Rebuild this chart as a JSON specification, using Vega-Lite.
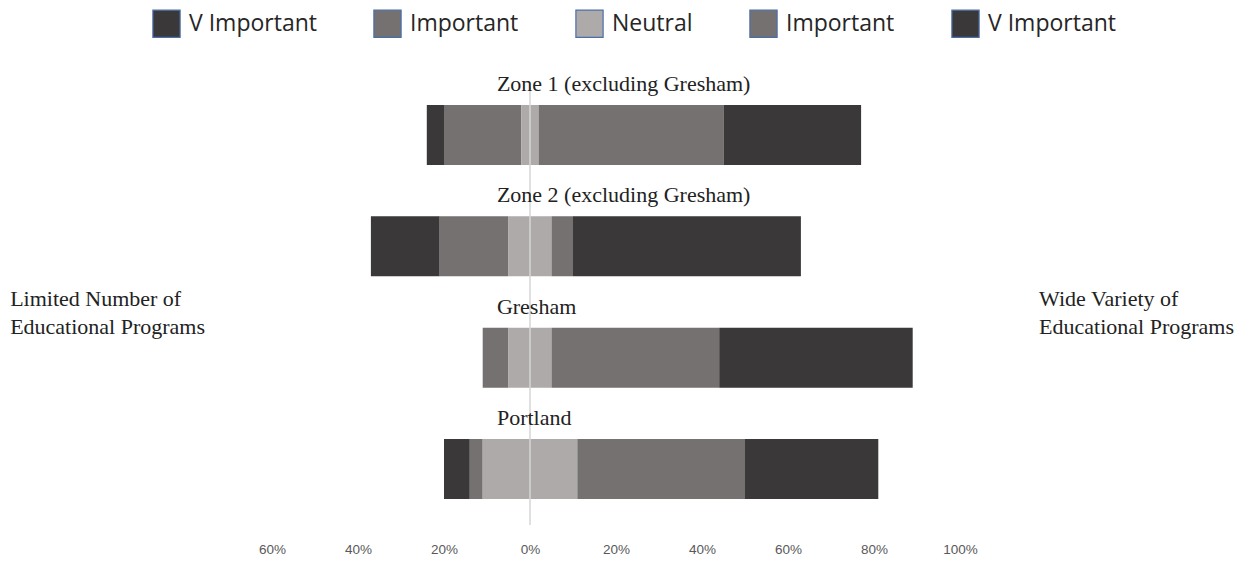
{
  "$schema": "https://vega.github.io/schema/vega-lite/v6.json",
  "autosize": {"type": "none"},
  "padding": {"left": 272, "top": 87, "right": 296, "bottom": 36},
  "width": 688,
  "height": 438,
  "background": "#ffffff",
  "config": {"view": {"stroke": null}},
  "datasets": {
    "segments": [
      {"zone": "Zone 1 (excluding Gresham)", "cat": "V Important|L", "lo": -24, "hi": -20},
      {"zone": "Zone 1 (excluding Gresham)", "cat": "Important|L", "lo": -20, "hi": -2},
      {"zone": "Zone 1 (excluding Gresham)", "cat": "Neutral", "lo": -2, "hi": 2},
      {"zone": "Zone 1 (excluding Gresham)", "cat": "Important|R", "lo": 2, "hi": 45},
      {"zone": "Zone 1 (excluding Gresham)", "cat": "V Important|R", "lo": 45, "hi": 77},
      {"zone": "Zone 2 (excluding Gresham)", "cat": "V Important|L", "lo": -37, "hi": -21},
      {"zone": "Zone 2 (excluding Gresham)", "cat": "Important|L", "lo": -21, "hi": -5},
      {"zone": "Zone 2 (excluding Gresham)", "cat": "Neutral", "lo": -5, "hi": 5},
      {"zone": "Zone 2 (excluding Gresham)", "cat": "Important|R", "lo": 5, "hi": 10},
      {"zone": "Zone 2 (excluding Gresham)", "cat": "V Important|R", "lo": 10, "hi": 63},
      {"zone": "Gresham", "cat": "Important|L", "lo": -11, "hi": -5},
      {"zone": "Gresham", "cat": "Neutral", "lo": -5, "hi": 5},
      {"zone": "Gresham", "cat": "Important|R", "lo": 5, "hi": 44},
      {"zone": "Gresham", "cat": "V Important|R", "lo": 44, "hi": 89},
      {"zone": "Portland", "cat": "V Important|L", "lo": -20, "hi": -14},
      {"zone": "Portland", "cat": "Important|L", "lo": -14, "hi": -11},
      {"zone": "Portland", "cat": "Neutral", "lo": -11, "hi": 11},
      {"zone": "Portland", "cat": "Important|R", "lo": 11, "hi": 50},
      {"zone": "Portland", "cat": "V Important|R", "lo": 50, "hi": 81}
    ],
    "zones": [
      {"zone": "Zone 1 (excluding Gresham)"},
      {"zone": "Zone 2 (excluding Gresham)"},
      {"zone": "Gresham"},
      {"zone": "Portland"}
    ],
    "leftNote": [{"zone": "Gresham", "note": "Limited Number of\nEducational Programs"}],
    "rightNote": [{"zone": "Gresham", "note": "Wide Variety of\nEducational Programs"}]
  },
  "layer": [
    {
      "data": {"name": "segments"},
      "mark": {"type": "bar"},
      "encoding": {
        "y": {
          "field": "zone", "type": "nominal",
          "scale": {"domain": ["Zone 1 (excluding Gresham)", "Zone 2 (excluding Gresham)", "Gresham", "Portland"], "paddingInner": 0.461, "paddingOuter": 0.1976, "align": 0.409},
          "axis": null
        },
        "x": {
          "field": "lo", "type": "quantitative",
          "scale": {"domain": [-60, 100], "nice": false, "zero": false},
          "axis": {
            "values": [-60, -40, -20, 0, 20, 40, 60, 80, 100],
            "labelExpr": "abs(datum.value) + '%'",
            "title": null, "domain": false, "ticks": false, "tickSize": 0, "grid": false,
            "labelFlush": false, "labelOverlap": false,
            "labelPadding": 17, "labelFont": "Liberation Sans", "labelFontSize": 13.5, "labelColor": "#595959"
          }
        },
        "x2": {"field": "hi"},
        "color": {
          "field": "cat", "type": "nominal",
          "scale": {
            "domain": ["V Important|L", "Important|L", "Neutral", "Important|R", "V Important|R"],
            "range": ["#3a3838", "#767171", "#aeaaaa", "#767171", "#3a3838"]
          },
          "legend": {
            "orient": "none", "legendX": -120, "legendY": -78,
            "direction": "horizontal", "columns": 5, "title": null,
            "labelExpr": "split(datum.label, '|')[0]",
            "symbolType": "square", "symbolSize": 740,
            "labelFont": "Open Sans", "labelFontSize": 23, "labelColor": "#262626",
            "labelOffset": 8, "columnPadding": 54, "padding": 0, "labelLimit": 300,
            "encode": {"symbols": {"update": {"stroke": {"value": "#4a6ea8"}, "strokeWidth": {"value": 1.2}, "opacity": {"value": 1}}}}
          }
        }
      }
    },
    {
      "data": {"values": [{"z": 0}]},
      "mark": {"type": "rule", "color": "#d6d6d6", "strokeWidth": 1.5},
      "encoding": {"x": {"field": "z", "type": "quantitative"}}
    },
    {
      "data": {"name": "zones"},
      "mark": {"type": "text", "align": "left", "baseline": "alphabetic", "dy": -44, "font": "Liberation Serif", "fontSize": 22, "color": "#222222"},
      "encoding": {
        "x": {"datum": -7.7},
        "y": {"field": "zone", "type": "nominal"},
        "text": {"field": "zone"}
      }
    },
    {
      "data": {"name": "leftNote"},
      "mark": {"type": "text", "align": "left", "baseline": "alphabetic", "dy": -51.6, "lineBreak": "\n", "lineHeight": 28, "font": "Liberation Serif", "fontSize": 22, "color": "#222222"},
      "encoding": {
        "x": {"datum": -120.9},
        "y": {"field": "zone", "type": "nominal"},
        "text": {"field": "note"}
      }
    },
    {
      "data": {"name": "rightNote"},
      "mark": {"type": "text", "align": "left", "baseline": "alphabetic", "dy": -51.6, "lineBreak": "\n", "lineHeight": 28, "font": "Liberation Serif", "fontSize": 22, "color": "#222222"},
      "encoding": {
        "x": {"datum": 118.4},
        "y": {"field": "zone", "type": "nominal"},
        "text": {"field": "note"}
      }
    }
  ]
}
